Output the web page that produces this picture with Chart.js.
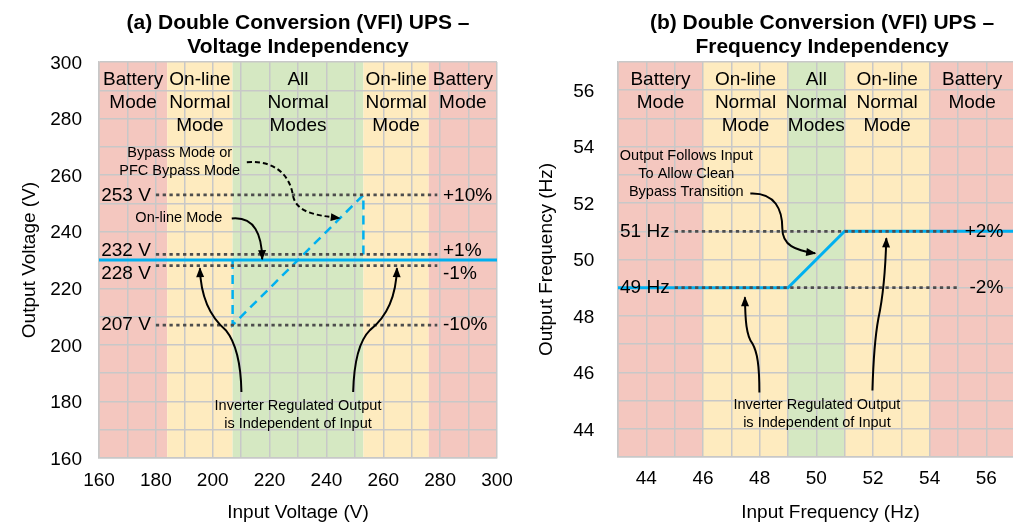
<!DOCTYPE html>
<html>
<head>
<meta charset="utf-8">
<script src="https://cdn.jsdelivr.net/npm/chart.js"></script>
<style>
html, body { margin: 0; padding: 0; overflow: hidden; background: #fff; }
body { width: 1013px; height: 525px; position: relative; }
#voltChart { position: absolute; left: 0; top: 0; }
#freqChart { position: absolute; left: 515px; top: 0; }
</style>
</head>
<body>
<canvas id="voltChart" width="515" height="525"></canvas>
<canvas id="freqChart" width="528" height="525"></canvas>
<script>
// (a) voltage
const voltTitle = ["(a) Double Conversion (VFI) UPS –", "Voltage Independency"]
const voltBandEdges = [160, 184, 207, 253, 276, 300]
const bandLabels = [["Battery", "Mode"], ["On-line", "Normal", "Mode"], ["All", "Normal", "Modes"], ["On-line", "Normal", "Mode"], ["Battery", "Mode"]]
const voltXTicks = [160, 180, 200, 220, 240, 260, 280, 300]
const voltYTicks = [160, 180, 200, 220, 240, 260, 280, 300]
const voltOutX = [160, 300]
const voltOutY = [230, 230]
const voltBypassX = [207, 207, 253, 253]
const voltBypassY = [230, 207, 253, 230]
const voltLevels = [253, 232, 228, 207]
const voltLevelNames = ["253 V", "232 V", "228 V", "207 V"]
const voltLevelPct = ["+10%", "+1%", "-1%", "-10%"]
const voltLevelSpan = [180, 279]

// (b) frequency
const freqTitle = ["(b) Double Conversion (VFI) UPS –", "Frequency Independency"]
const freqBandEdges = [43, 46, 49, 51, 54, 58]
const freqXTicks = [44, 46, 48, 50, 52, 54, 56]
const freqYTicks = [44, 46, 48, 50, 52, 54, 56]
const freqOutX = [43, 49, 51, 58]
const freqOutY = [49, 49, 51, 51]
const freqLevels = [51, 49]
const freqLevelNames = ["51 Hz", "49 Hz"]
const freqLevelPct = ["+2%", "-2%"]
const freqLevelSpan = [45, 55]

// styles
const bandFill = ["#f4c7bf", "#feebbf", "#d5e8c2", "#feebbf", "#f4c7bf"]
const gridColor = "#c8c8c8"
const blue = "#00b0f0"
const fam = "'Liberation Sans', Arial, sans-serif"

Chart.defaults.font.family = fam
Chart.defaults.font.size = 19
Chart.defaults.color = "#000"

const pts = (xs, ys) => xs.map((x, i) => ({ x: x, y: ys[i] }))

// bands, labels, arrows
const upsDrawing = {
    id: "upsDrawing",
    beforeDraw(chart, args, o) {
        const { ctx, chartArea: a, scales: { x } } = chart
        ctx.save()
        for (let i = 0; i < o.edges.length - 1; i++) {
            const x0 = x.getPixelForValue(o.edges[i])
            const x1 = x.getPixelForValue(o.edges[i + 1])
            ctx.fillStyle = bandFill[i]
            ctx.fillRect(x0, a.top, x1 - x0, a.bottom - a.top)
        }
        ctx.restore()
    },
    afterDraw(chart, args, o) {
        const { ctx, chartArea: a, scales: { x, y } } = chart
        ctx.save()
        ctx.fillStyle = "#000"
        ctx.textAlign = "center"
        ctx.textBaseline = "middle"
        //title
        ctx.font = "bold 21px " + fam
        o.title.forEach((t, i) => ctx.fillText(t, x.getPixelForValue(o.titleX), 23 + i * 24.6))
        //band labels
        ctx.font = "19px " + fam
        o.bandLabels.forEach((lines, i) => {
            const cx = o.labelAt ? x.getPixelForValue(o.labelAt[i])
                : (x.getPixelForValue(o.edges[i]) + x.getPixelForValue(o.edges[i + 1])) / 2
            lines.forEach((t, j) => ctx.fillText(t, cx, a.top + 18 + j * 23))
        })
        //level labels
        o.levels.forEach((v, i) => {
            const py = y.getPixelForValue(v) + (o.nudge[i] || 0)
            ctx.textAlign = "right"
            ctx.fillText(o.names[i], x.getPixelForValue(o.span[0]) - 5, py)
            ctx.textAlign = o.pctAlign
            ctx.fillText(o.pct[i], x.getPixelForValue(o.pctAt), py)
        })
        //notes
        ctx.font = "14.5px " + fam
        ctx.textAlign = "center"
        ctx.strokeStyle = "#000"
        ctx.lineWidth = 2
        o.notes.forEach(n => {
            n.text.forEach((t, j) => ctx.fillText(t, x.getPixelForValue(n.at[0]), y.getPixelForValue(n.at[1]) + j * 18))
            n.arrows.forEach(p => {
                const q = p.map(c => [x.getPixelForValue(c[0]), y.getPixelForValue(c[1])])
                ctx.setLineDash(n.dashed ? [5, 3] : [])
                ctx.beginPath()
                ctx.moveTo(q[0][0], q[0][1])
                for (let k = 1; k + 2 < q.length; k += 3) {
                    ctx.bezierCurveTo(q[k][0], q[k][1], q[k + 1][0], q[k + 1][1], q[k + 2][0], q[k + 2][1])
                }
                ctx.stroke()
                const e = q[q.length - 1], c = q[q.length - 2]
                const ang = Math.atan2(e[1] - c[1], e[0] - c[0])
                const cs = Math.cos(ang), sn = Math.sin(ang)
                ctx.setLineDash([])
                ctx.beginPath()
                ctx.moveTo(e[0] + cs * 1, e[1] + sn * 1)
                ctx.lineTo(e[0] - 9 * cs + 4 * sn, e[1] - 9 * sn - 4 * cs)
                ctx.lineTo(e[0] - 9 * cs - 4 * sn, e[1] - 9 * sn + 4 * cs)
                ctx.closePath()
                ctx.fill()
            })
        })
        ctx.restore()
    }
}

function makeChart(id, d) {
    let datasets = d.levels.map(v => ({
        data: pts(d.span, [v, v]),
        borderColor: "#4d4d4d", borderWidth: 2.8, borderDash: [3.3, 3.5],
        showLine: true, pointRadius: 0
    }))
    datasets.push({ data: pts(d.outX, d.outY), borderColor: blue, borderWidth: 3, showLine: true, pointRadius: 0 })
    if (d.bypassX) {
        datasets.push({ data: pts(d.bypassX, d.bypassY), borderColor: blue, borderWidth: 2.5, borderDash: [9, 6], showLine: true, pointRadius: 0 })
    }
    new Chart(document.getElementById(id), {
        type: "scatter",
        data: { datasets: datasets },
        options: {
            responsive: false,
            animation: false,
            layout: { padding: { top: 62, right: d.padRight, left: 0, bottom: 0 } },
            plugins: {
                legend: { display: false },
                tooltip: { enabled: false },
                upsDrawing: {
                    title: d.title, titleX: d.titleX, edges: d.edges, bandLabels: bandLabels, labelAt: d.labelAt,
                    levels: d.levels, names: d.names, pct: d.pct, span: d.span, nudge: d.nudge,
                    pctAt: d.pctAt, pctAlign: d.pctAlign, notes: d.notes
                }
            },
            scales: {
                x: {
                    type: "linear", min: d.xMin, max: d.xMax,
                    // padding 0 + tall line so the labels sit lower without eating the right edge
                    ticks: { stepSize: d.step, autoSkip: false, maxRotation: 0, padding: 0, font: { lineHeight: d.xLabelLine },
                        callback: v => d.xTicks.includes(v) ? v : "" },
                    grid: { color: gridColor, lineWidth: 1.5, drawTicks: false },
                    border: { color: gridColor, width: 1.5 },
                    title: { display: true, text: d.xTitle, padding: { top: 0, bottom: 1 } },
                    afterFit: s => { s.height = d.xAxisH }
                },
                y: {
                    type: "linear", min: d.yMin, max: d.yMax,
                    ticks: { stepSize: d.step, autoSkip: false, padding: d.yPad, labelOffset: 1.5,
                        callback: v => d.yTicks.includes(v) ? v : "" },
                    grid: { color: gridColor, lineWidth: 1.5, drawTicks: false },
                    border: { color: gridColor, width: 1.5 },
                    title: { display: true, text: d.yTitle, padding: { top: d.yTitlePad, bottom: 0 } },
                    afterFit: s => { s.width = d.yAxisW }
                }
            }
        },
        plugins: [upsDrawing]
    })
}

makeChart("voltChart", {
    title: voltTitle, titleX: 230, edges: voltBandEdges,
    xMin: 160, xMax: 300, yMin: 160, yMax: 300, step: 10,
    xTicks: voltXTicks, yTicks: voltYTicks,
    xTitle: "Input Voltage (V)", yTitle: "Output Voltage (V)",
    outX: voltOutX, outY: voltOutY, bypassX: voltBypassX, bypassY: voltBypassY,
    levels: voltLevels, names: voltLevelNames, pct: voltLevelPct, span: voltLevelSpan,
    nudge: [1, -4, 8, 0], pctAt: 281, pctAlign: "left",
    padRight: 18, yAxisW: 99, xAxisH: 67, xLabelLine: "46px", yPad: 17, yTitlePad: 18.6,
    notes: [
        { text: ["Bypass Mode or", "PFC Bypass Mode"], at: [188.4, 267.7], dashed: true,
          arrows: [[[212, 264.6], [221.9, 265.3], [227.1, 260], [228.2, 252.9], [229.3, 246.9], [235.9, 245.8], [244.7, 244.8]]] },
        { text: ["On-line Mode"], at: [188.1, 244.7],
          arrows: [[[206.7, 244.7], [214.8, 245.5], [217.3, 238.8], [217.4, 230.3]]] },
        { text: ["Inverter Regulated Output", "is Independent of Input"], at: [230, 178.3],
          arrows: [
              [[210.1, 183.3], [209.9, 194.6], [207.4, 201.7], [204.6, 205.2], [199.7, 209.4], [195.8, 215.8], [195.5, 227.1]],
              [[249.4, 183.3], [249.7, 194.6], [251.8, 201.7], [255.3, 205.2], [260.6, 209.4], [264.5, 215.8], [264.8, 227.1]]
          ] }
    ]
})

makeChart("freqChart", {
    title: freqTitle, titleX: 50.2, edges: freqBandEdges, labelAt: [44.5, 47.5, 50, 52.5, 55.5],
    xMin: 43, xMax: 58, yMin: 43, yMax: 57, step: 1,
    xTicks: freqXTicks, yTicks: freqYTicks,
    xTitle: "Input Frequency (Hz)", yTitle: "Output Frequency (Hz)",
    outX: freqOutX, outY: freqOutY,
    levels: freqLevels, names: freqLevelNames, pct: freqLevelPct, span: freqLevelSpan,
    nudge: [0, 0], pctAt: 56.6, pctAlign: "right",
    padRight: 0, yAxisW: 103, xAxisH: 68, xLabelLine: "43px", yPad: 23.7, yTitlePad: 20.6,
    notes: [
        { text: ["Output Follows Input", "To Allow Clean", "Bypass Transition"], at: [45.41, 53.66],
          arrows: [[[47.67, 52.34], [48.56, 52.38], [48.8, 51.74], [48.8, 51.1], [48.8, 50.5], [49.26, 50.32], [49.96, 50.22]]] },
        { text: ["Inverter Regulated Output", "is Independent of Input"], at: [50.02, 44.83],
          arrows: [
              [[47.99, 45.29], [47.99, 46.25], [47.92, 46.71], [47.74, 47.03], [47.53, 47.31], [47.49, 47.84], [47.48, 48.66]],
              [[51.98, 45.36], [52.01, 46.42], [52.08, 47.31], [52.19, 47.91], [52.33, 48.55], [52.44, 49.61], [52.47, 50.75]]
          ] }
    ]
})
</script>
</body>
</html>
